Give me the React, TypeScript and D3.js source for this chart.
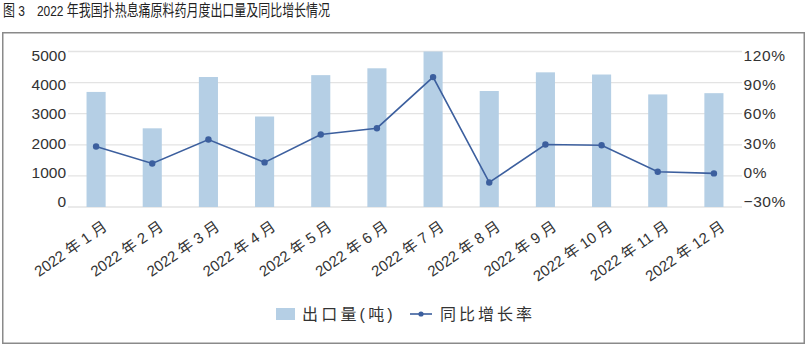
import React from "react";
import * as d3 from "d3";

const months = ["2022 年 1 月","2022 年 2 月","2022 年 3 月","2022 年 4 月","2022 年 5 月","2022 年 6 月","2022 年 7 月","2022 年 8 月","2022 年 9 月","2022 年 10 月","2022 年 11 月","2022 年 12 月"];
const exportVolume = [3700, 2530, 4180, 2910, 4240, 4460, 5000, 3730, 4330, 4260, 3620, 3660];
const yoyGrowth = [28.4, 12, 35.1, 13, 39.9, 46, 95.3, -6.3, 30.3, 29.6, 4, 2.4];
const leftTicks = [0, 1000, 2000, 3000, 4000, 5000];
const rightTicks = [-30, 0, 30, 60, 90, 120];
const title = "图 3　2022 年我国扑热息痛原料药月度出口量及同比增长情况";
const legendBar = "出口量(吨)";
const legendLine = "同比增长率";

const W = 812, H = 352;
const plot = { left: 68, right: 742, top: 51.5, bottom: 207 };
const FONT = "'Liberation Sans', 'Noto Sans CJK SC', sans-serif";
const TEXT = "#333";

export default function App() {
  const x = d3.scaleBand<string>().domain(months).range([plot.left, plot.right]).paddingInner(0.66).paddingOuter(0.33);
  const yL = d3.scaleLinear().domain([0, 5000]).range([plot.bottom, plot.top]);
  const yR = d3.scaleLinear().domain([-30, 120]).range([plot.bottom, plot.top]);
  // tick labels are set slightly tighter than the gridlines in the original
  const yLabL = d3.scaleLinear().domain([0, 5000]).range([201.7, 55.3]);
  const yLabR = d3.scaleLinear().domain([-30, 120]).range([201.2, 55.6]);
  const cx = (m: string) => (x(m) as number) + x.bandwidth() / 2;
  const line = d3.line<number>().x((_, i) => cx(months[i])).y(d => yR(d));

  return (
    <svg width={W} height={H} style={{ position: "absolute", left: 0, top: 0, background: "#fff" }} fontFamily={FONT}>
      <rect x={0} y={0} width={W} height={H} fill="#fff" />
      <text x={3} y={16} fontSize={15.5} fill="#222" textLength={327} lengthAdjust="spacingAndGlyphs">{title}</text>
      <rect x={2.75} y={32.75} width={801.5} height={310.5} fill="none" stroke="#8a8a8a" strokeWidth={1.5} />
      {leftTicks.map(t => (
        <line key={t} x1={plot.left} x2={plot.right} y1={yL(t)} y2={yL(t)} stroke="#e3e3e3" strokeWidth={1.3} />
      ))}
      {exportVolume.map((v, i) => (
        <rect key={i} x={x(months[i])} y={yL(v)} width={x.bandwidth()} height={yL(0) - yL(v)} fill="#b5cfe5" />
      ))}
      <path d={line(yoyGrowth) || ""} fill="none" stroke="#3c5f9e" strokeWidth={1.6} />
      {yoyGrowth.map((v, i) => (
        <circle key={i} cx={cx(months[i])} cy={yR(v)} r={3.2} fill="#3c5f9e" />
      ))}
      {leftTicks.map(t => (
        <text key={t} x={66} y={yLabL(t)} dy="0.36em" textAnchor="end" fontSize={15.5} fill={TEXT}>{t}</text>
      ))}
      {rightTicks.map(t => (
        <text key={t} x={743.5} y={yLabR(t)} dy="0.36em" textAnchor="start" fontSize={15.5} letterSpacing={0.6} fill={TEXT}>{(t < 0 ? "−" + Math.abs(t) : String(t)) + "%"}</text>
      ))}
      {months.map(m => (
        <text key={m} transform={`translate(${cx(m) + 12},${229}) rotate(-35)`} textAnchor="end" fontSize={15} fill={TEXT}>{m}</text>
      ))}
      <rect x={276} y={308} width={19} height={12} fill="#b5cfe5" />
      <text x={302} y={320} fontSize={16} letterSpacing={3.2} fill={TEXT}>{legendBar}</text>
      <line x1={410} x2={432} y1={314} y2={314} stroke="#3c5f9e" strokeWidth={1.6} />
      <circle cx={421} cy={314} r={2.6} fill="#3c5f9e" />
      <text x={440} y={320} fontSize={16} letterSpacing={3} fill={TEXT}>{legendLine}</text>
    </svg>
  );
}
